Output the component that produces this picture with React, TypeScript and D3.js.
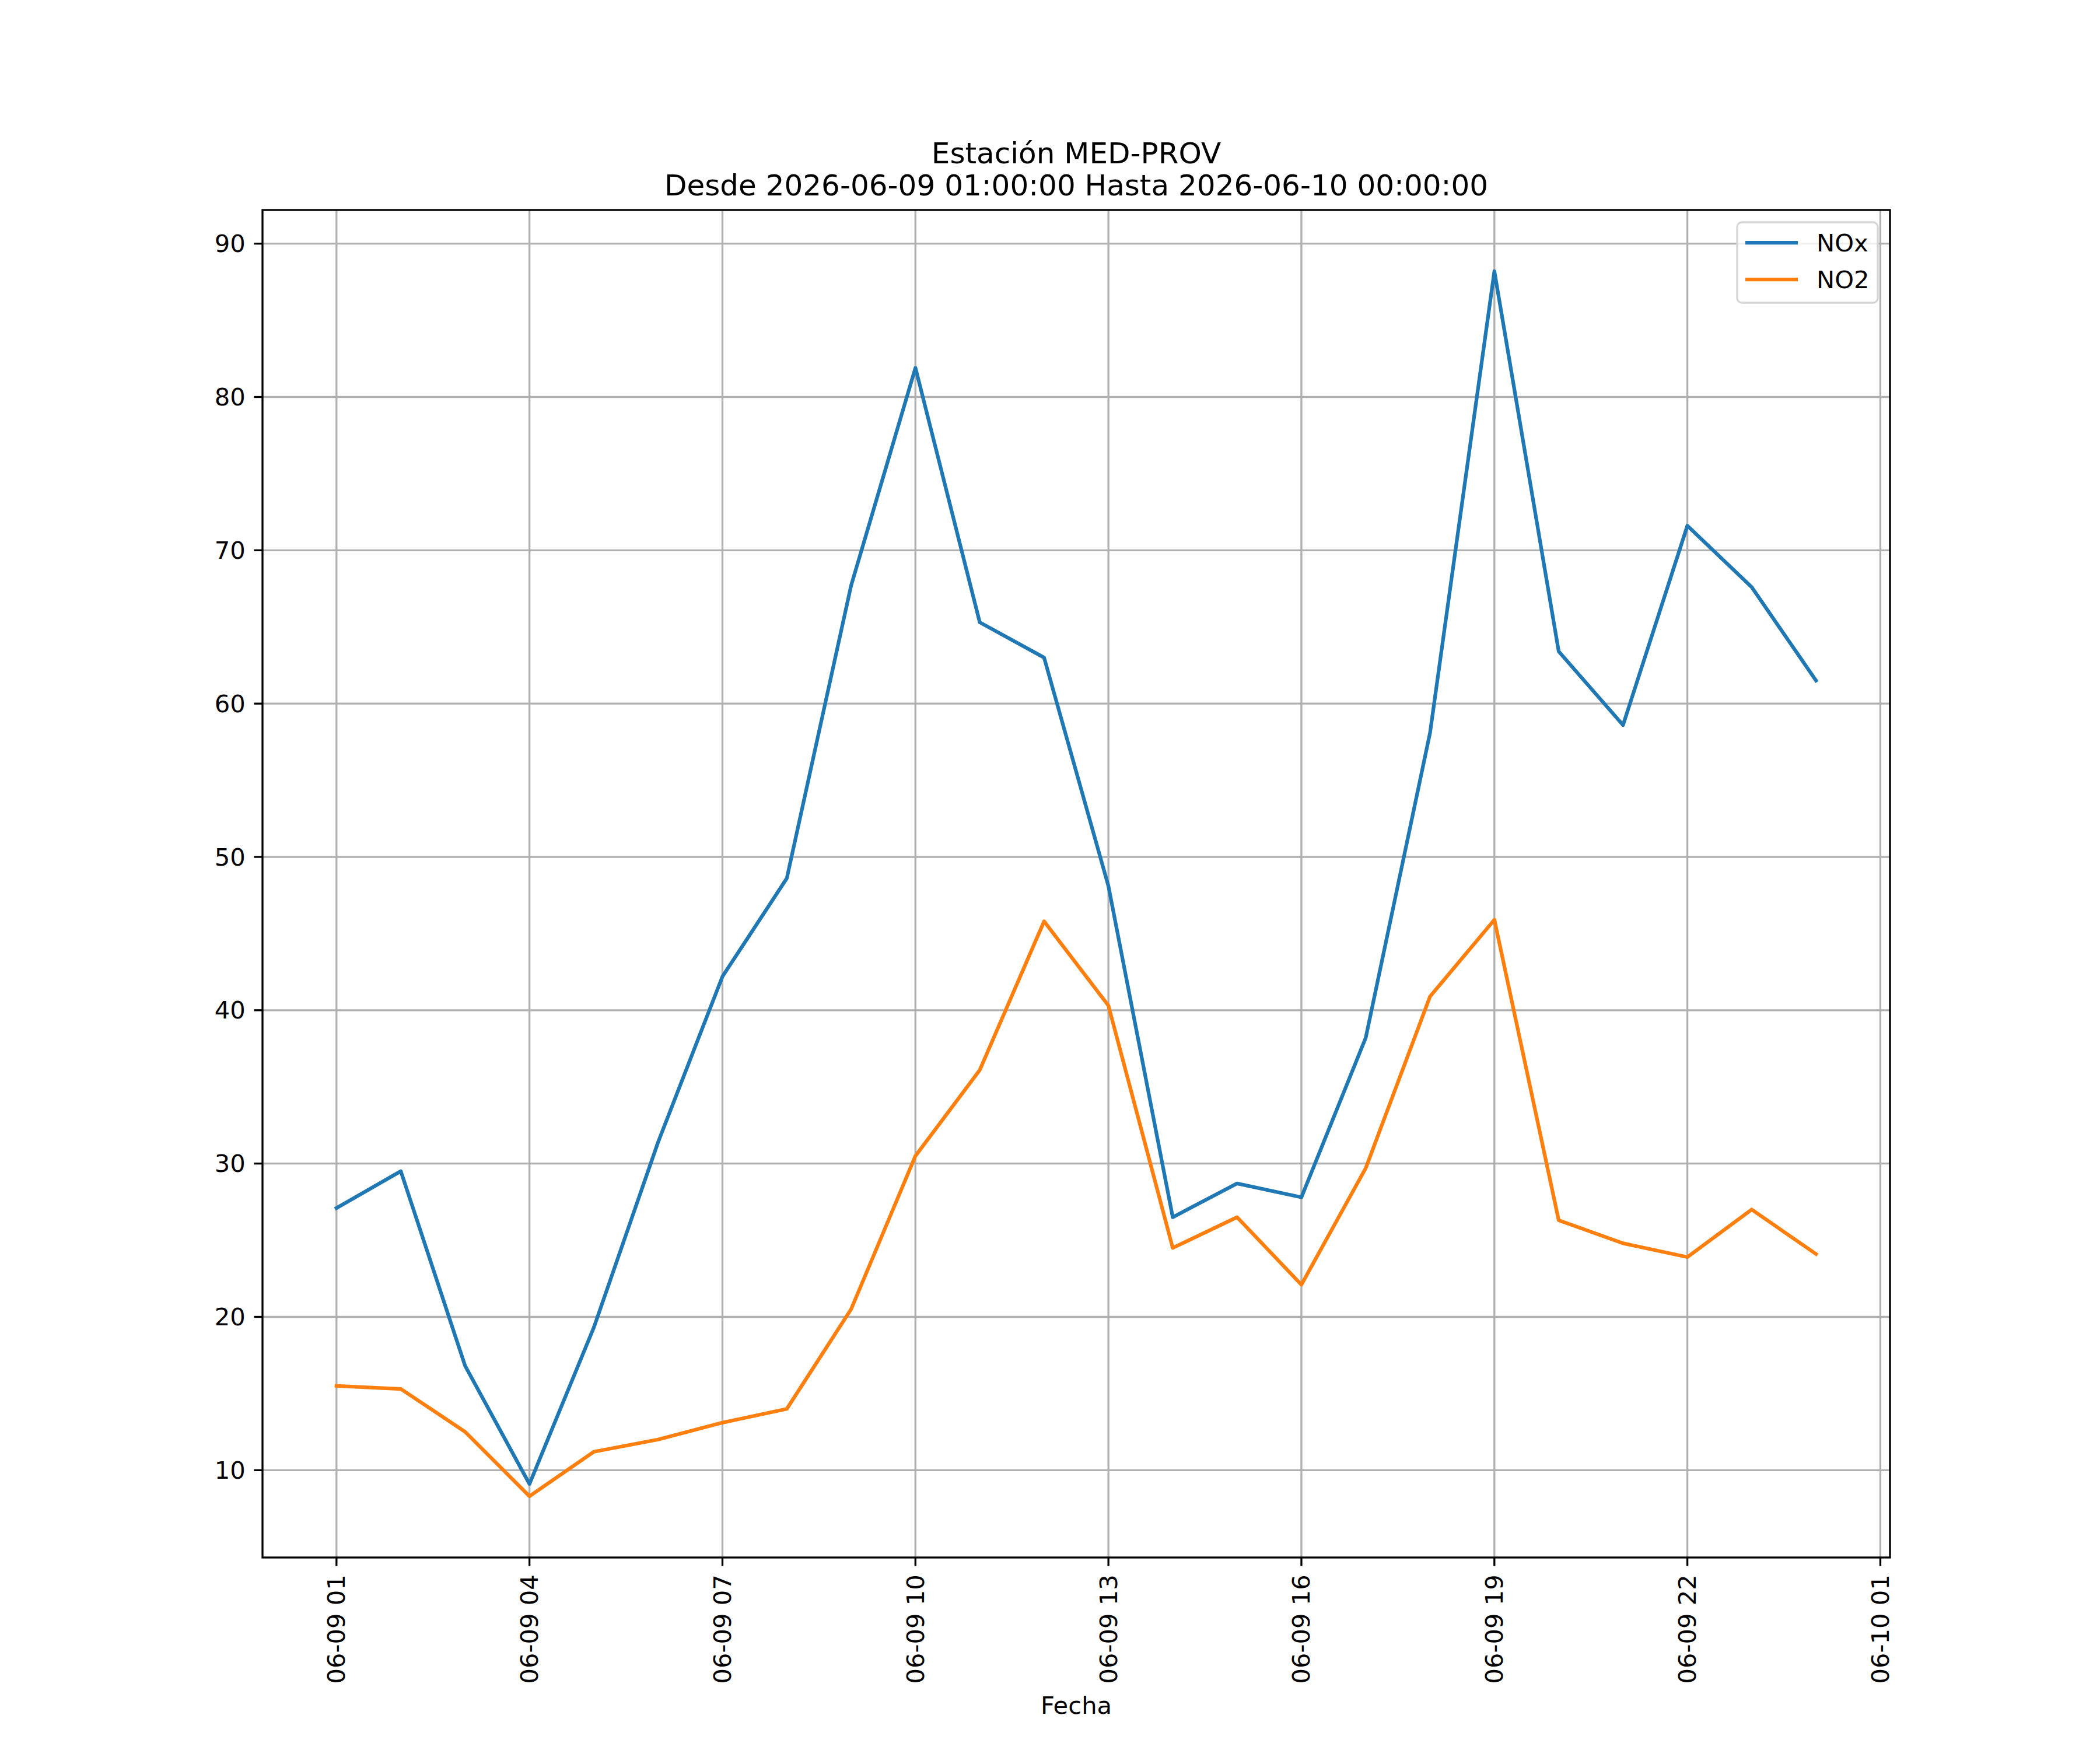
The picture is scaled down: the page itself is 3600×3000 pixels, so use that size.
import React from "react";
import * as d3 from "d3";

const hours: number[] = [1,2,3,4,5,6,7,8,9,10,11,12,13,14,15,16,17,18,19,20,21,22,23,24];
const noxValues: number[] = [27.1,29.5,16.8,9.1,19.3,31.4,42.2,48.6,67.7,81.9,65.3,63.0,48.1,26.5,28.7,27.8,38.2,58.1,88.2,63.4,58.6,71.6,67.6,61.5];
const no2Values: number[] = [15.5,15.3,12.5,8.3,11.2,12.0,13.1,14.0,20.5,30.5,36.1,45.8,40.3,24.5,26.5,22.1,29.7,40.9,45.9,26.3,24.8,23.9,27.0,24.1];
const yTicks: number[] = [10,20,30,40,50,60,70,80,90];
const xTickHours: number[] = [1,4,7,10,13,16,19,22,25];
const seriesNames: string[] = ["NOx", "NO2"];
const seriesColors: string[] = ["#1f77b4", "#ff7f0e"];
const titleLines: string[] = ["Estación MED-PROV", "Desde 2026-06-09 01:00:00 Hasta 2026-06-10 00:00:00"];
const xLabel = "Fecha";

const W = 3600, H = 3000;
const L = 450, R = 3240, T = 360, B = 2670;
const FONT = "DejaVu Sans";
const dt = (h: number) => new Date(Date.UTC(2026, 5, 9, 0) + h * 3600 * 1000);

export default function App() {
  const dates = hours.map(dt);
  const xMin = +dates[0], xMax = +dates[dates.length - 1];
  const xm = (xMax - xMin) * 0.05;
  const x = d3.scaleUtc().domain([new Date(xMin - xm), new Date(xMax + xm)]).range([L, R]);
  const all = [...noxValues, ...no2Values];
  const yLo = d3.min(all)!, yHi = d3.max(all)!;
  const ym = (yHi - yLo) * 0.05;
  const y = d3.scaleLinear().domain([yLo - ym, yHi + ym]).range([B, T]);
  const fmt = d3.utcFormat("%m-%d %H");
  const line = d3.line<number>().x((_, i) => x(dates[i])).y((v) => y(v));
  const series = [noxValues, no2Values];
  const sw = 3.33, tl = 14.6, pad = 14.6;
  return (
    <svg width={W} height={H} style={{ position: "absolute", left: 0, top: 0 }} fontFamily={FONT}>
      <rect x={0} y={0} width={W} height={H} fill="#fff" />
      <g stroke="#b0b0b0" strokeWidth={sw}>
        {xTickHours.map((h) => (
          <line key={"gx" + h} x1={x(dt(h))} x2={x(dt(h))} y1={T} y2={B} />
        ))}
        {yTicks.map((v) => (
          <line key={"gy" + v} x1={L} x2={R} y1={y(v)} y2={y(v)} />
        ))}
      </g>
      {series.map((s, i) => (
        <path key={i} d={line(s) || ""} fill="none" stroke={seriesColors[i]} strokeWidth={6.25} strokeLinejoin="round" strokeLinecap="square" />
      ))}
      <rect x={L} y={T} width={R - L} height={B - T} fill="none" stroke="#000" strokeWidth={sw} />
      {yTicks.map((v) => (
        <g key={"ty" + v}>
          <line x1={L - tl} x2={L} y1={y(v)} y2={y(v)} stroke="#000" strokeWidth={sw} />
          <text x={L - tl - pad} y={y(v)} fontSize={41.67} textAnchor="end" dominantBaseline="central">{v}</text>
        </g>
      ))}
      {xTickHours.map((h) => (
        <g key={"tx" + h}>
          <line x1={x(dt(h))} x2={x(dt(h))} y1={B} y2={B + tl} stroke="#000" strokeWidth={sw} />
          <text transform={`translate(${x(dt(h))},${B + tl + pad}) rotate(-90)`} fontSize={41.67} textAnchor="end" dominantBaseline="central">{fmt(dt(h))}</text>
        </g>
      ))}
      <text x={(L + R) / 2} y={2938} fontSize={41.67} textAnchor="middle">{xLabel}</text>
      <text x={(L + R) / 2} y={280} fontSize={50} textAnchor="middle">{titleLines[0]}</text>
      <text x={(L + R) / 2} y={335} fontSize={50} textAnchor="middle">{titleLines[1]}</text>
      <g>
        <rect x={2978} y={381} width={241} height={138} rx={8} fill="#fff" fillOpacity={0.8} stroke="#d6d6d6" strokeWidth={sw} />
        {seriesNames.map((n, i) => (
          <g key={n}>
            <line x1={2992} x2={3082} y1={416 + i * 63} y2={416 + i * 63} stroke={seriesColors[i]} strokeWidth={6.25} />
            <text x={3114} y={416 + i * 63} fontSize={41.67} dominantBaseline="central">{n}</text>
          </g>
        ))}
      </g>
    </svg>
  );
}
